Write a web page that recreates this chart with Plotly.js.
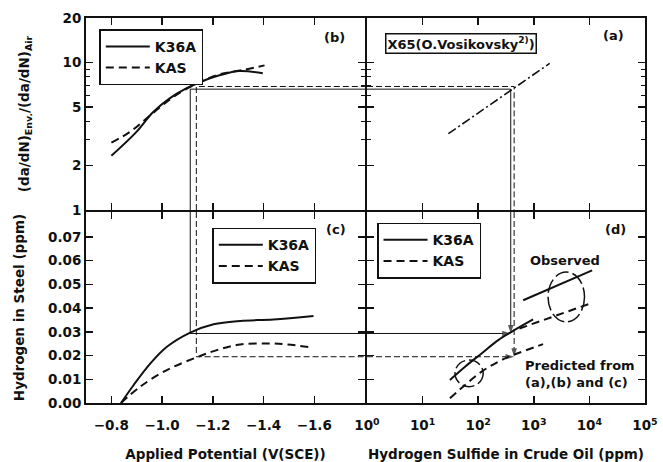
<!DOCTYPE html>
<html><head><meta charset="utf-8">
<script src="https://cdn.plot.ly/plotly-3.0.1.min.js"></script>
<style>html,body{margin:0;padding:0;background:#fff}#chart{width:663px;height:462px}</style>
</head><body><div id="chart"></div>
<script>
// ---- Panel (b): (da/dN)Env/(da/dN)Air vs applied potential ----
const bPotK36A   = [-0.80, -0.898, -0.964, -1.030, -1.095, -1.161, -1.226, -1.305, -1.397];
const bRatioK36A = [2.33, 3.37, 4.60, 5.71, 6.66, 7.49, 8.18, 8.74, 8.44];
const bPotKAS    = [-0.80, -0.872, -0.944, -1.030, -1.095, -1.161, -1.226, -1.318, -1.404];
const bRatioKAS  = [2.86, 3.37, 4.25, 5.60, 6.60, 7.50, 8.30, 8.88, 9.55];

// ---- Panel (c): hydrogen in steel vs applied potential ----
const cPotK36A = [-0.838, -0.888, -0.954, -1.019, -1.111, -1.203, -1.308, -1.439, -1.597];
const cHK36A   = [0.0, 0.0076, 0.0167, 0.0237, 0.0297, 0.0332, 0.0346, 0.0352, 0.0367];
const cPotKAS  = [-0.838, -0.914, -1.019, -1.135, -1.216, -1.308, -1.413, -1.492, -1.590];
const cHKAS    = [0.0, 0.0069, 0.0139, 0.0192, 0.0223, 0.0247, 0.0251, 0.0247, 0.0234];

// ---- Panel (a): X65 (O. Vosikovsky) ----
const aH2S   = [29.1, 1930];
const aRatio = [3.29, 9.85];

// ---- Panel (d): hydrogen in steel vs H2S in crude oil ----
const dPredH2SK36A = [31, 58, 115, 229, 398, 971];
const dPredHK36A   = [0.0097, 0.0153, 0.0209, 0.0265, 0.0300, 0.0352];
const dPredH2SKAS  = [31, 58, 115, 229, 425, 1468];
const dPredHKAS    = [0.0020, 0.0076, 0.0132, 0.0174, 0.0202, 0.0248];
const dObsH2SK36A  = [645, 11200];
const dObsHK36A    = [0.0433, 0.0559];
const dObsH2SKAS   = [552, 10300];
const dObsHKAS     = [0.0314, 0.0419];

// ---- Group outlines in (d): [H2S min, H2S max, H min, H max] ----
const obsGroup  = [1803, 8166, 0.0342, 0.0552];
const predGroup = [38.3, 123, 0.0069, 0.0181];

// ---- Guide (construction) values ----
const guidePot   = {K36A: -1.111, KAS: -1.135};
const guideRatio = {K36A: 6.59, KAS: 6.87};
const guideH     = {K36A: 0.0293, KAS: 0.0195};
const guideH2S   = {K36A: 385, KAS: 443};

// ---- Ticks ----
const potTicks   = [-0.8, -1.0, -1.2, -1.4, -1.6];
const hTicks     = [0, 0.01, 0.02, 0.03, 0.04, 0.05, 0.06, 0.07];
const ratioTicks = [1, 2, 5, 10, 20];
const ratioMinor = [3, 4, 6, 7, 8, 9];
const h2sTicks   = [1, 10, 100, 1000, 10000, 100000];
const h2sLabels  = ['10<sup>0</sup>','10<sup>1</sup>','10<sup>2</sup>','10<sup>3</sup>','10<sup>4</sup>','10<sup>5</sup>'];

// ---- Ranges ----
const potRange = [-0.7, -1.8];
const hRange = [0, 0.0805];
const ratioRangeMax = 20;
const h2sRange = [1, 100000];

const FONT = 'DejaVu Sans';
const INK = '#111';
const solid = {color: INK, width: 2};
const dashed = {color: INK, width: 2, dash: '8px,5px'};
const thinSolid = {color: INK, width: 1};
const thinDash = {color: INK, width: 1, dash: '6px,3px'};

function seg(xs, ys, xa, ya, line, arrow) {
  const t = {x: xs, y: ys, xaxis: xa, yaxis: ya, type: 'scatter', mode: arrow ? 'lines+markers' : 'lines',
             line: line, showlegend: false, hoverinfo: 'skip'};
  if (arrow) t.marker = {symbol: 'arrow', angleref: 'previous', size: [0, 9], color: INK, line: {width: 0}};
  return t;
}

const traces = [
  // (b)
  {x: bPotK36A, y: bRatioK36A, xaxis: 'x2', yaxis: 'y2', mode: 'lines', line: Object.assign({shape: 'spline'}, solid), name: 'K36A', legend: 'legend'},
  {x: bPotKAS, y: bRatioKAS, xaxis: 'x2', yaxis: 'y2', mode: 'lines', line: Object.assign({shape: 'spline'}, dashed), name: 'KAS', legend: 'legend'},
  // (c)
  {x: cPotK36A, y: cHK36A, xaxis: 'x', yaxis: 'y', mode: 'lines', line: Object.assign({shape: 'spline'}, solid), name: 'K36A', legend: 'legend2'},
  {x: cPotKAS, y: cHKAS, xaxis: 'x', yaxis: 'y', mode: 'lines', line: Object.assign({shape: 'spline'}, dashed), name: 'KAS', legend: 'legend2'},
  // (a)
  {x: aH2S, y: aRatio, xaxis: 'x4', yaxis: 'y4', mode: 'lines', line: {color: INK, width: 1.6, dash: '9px,3px,2px,3px'}, showlegend: false},
  // (d)
  {x: dPredH2SK36A, y: dPredHK36A, xaxis: 'x3', yaxis: 'y3', mode: 'lines', line: Object.assign({shape: 'spline'}, solid), name: 'K36A', legend: 'legend3'},
  {x: dPredH2SKAS, y: dPredHKAS, xaxis: 'x3', yaxis: 'y3', mode: 'lines', line: Object.assign({shape: 'spline'}, dashed), name: 'KAS', legend: 'legend3'},
  {x: dObsH2SK36A, y: dObsHK36A, xaxis: 'x3', yaxis: 'y3', mode: 'lines', line: solid, showlegend: false},
  {x: dObsH2SKAS, y: dObsHKAS, xaxis: 'x3', yaxis: 'y3', mode: 'lines', line: dashed, showlegend: false},
];

// guide lines
['K36A', 'KAS'].forEach(k => {
  const ln = k === 'K36A' ? thinSolid : thinDash;
  traces.push(seg([guidePot[k], guidePot[k], potRange[1]], [1, guideRatio[k], guideRatio[k]], 'x2', 'y2', ln));
  traces.push(seg([h2sRange[0], guideH2S[k], guideH2S[k]], [guideRatio[k], guideRatio[k], 1], 'x4', 'y4', ln));
  traces.push(seg([guidePot[k], guidePot[k], potRange[1]], [hRange[1], guideH[k], guideH[k]], 'x', 'y', ln));
  traces.push(seg([h2sRange[0], guideH2S[k]], [guideH[k], guideH[k]], 'x3', 'y3', ln, true));
  traces.push(seg([guideH2S[k], guideH2S[k]], [hRange[1], guideH[k]], 'x3', 'y3', ln, true));
});

const tickfont = {family: FONT, size: 13.5, color: INK, weight: 'bold'};
const titlefont = {family: FONT, size: 13.5, color: INK, weight: 'bold'};
const LW = 2;
const base = {showline: true, linecolor: INK, linewidth: LW, mirror: 'ticks', ticks: 'inside', ticklen: 7,
              tickwidth: 1.5, tickcolor: INK, showgrid: false, zeroline: false, tickfont: tickfont, automargin: false};
const W = 559, H = 385;
const split = 0.4991, ysplit = 0.4961;
const xL = [0, split], xR = [split + LW / W, 1];
const yB = [0, ysplit], yT = [ysplit + LW / H, 1];
const legendBase = {bgcolor: '#fff', bordercolor: INK, borderwidth: 1.5, xanchor: 'left', yanchor: 'top',
                    font: {family: FONT, size: 14, color: INK, weight: 'bold'}, itemwidth: 44, tracegroupgap: 0};
const annFont = {family: FONT, size: 13, color: INK, weight: 'bold'};
function ann(text, x, y, extra) {
  return Object.assign({text: text, x: x, y: y, xref: 'paper', yref: 'paper', xanchor: 'center', yanchor: 'middle',
                        showarrow: false, font: annFont}, extra || {});
}

const layout = {
  width: 663, height: 462,
  margin: {l: 86, r: 18, t: 18, b: 59},
  paper_bgcolor: '#fff', plot_bgcolor: '#fff',
  xaxis: Object.assign({}, base, {domain: xL, range: potRange, anchor: 'y', tickvals: potTicks, tickformat: '.1f', ticklabelstandoff: 9,
    title: {text: 'Applied Potential (V(SCE))', font: titlefont, standoff: 19}}),
  yaxis: Object.assign({}, base, {domain: yB, range: hRange, anchor: 'x', tickvals: hTicks, tickformat: '.2f',
    title: {text: 'Hydrogen in Steel (ppm)', font: titlefont, standoff: 20}}),
  xaxis2: Object.assign({}, base, {domain: xL, matches: 'x', anchor: 'y2', tickvals: potTicks, showticklabels: false}),
  yaxis2: Object.assign({}, base, {domain: yT, type: 'log', range: [0, Math.log10(ratioRangeMax)], anchor: 'x2',
    tickvals: ratioTicks, minor: {tickvals: ratioMinor, ticks: 'inside', ticklen: 4, tickcolor: INK, tickwidth: 1},
    title: {text: '(da/dN)<sub>Env.</sub>/(da/dN)<sub>Air</sub>', font: titlefont, standoff: 30}}),
  xaxis3: Object.assign({}, base, {domain: xR, type: 'log', range: [Math.log10(h2sRange[0]), Math.log10(h2sRange[1])], anchor: 'y3',
    tickvals: h2sTicks, ticktext: h2sLabels, ticklabelstandoff: 9,
    title: {text: 'Hydrogen Sulfide in Crude Oil (ppm)', font: titlefont, standoff: 19}}),
  yaxis3: Object.assign({}, base, {domain: yB, matches: 'y', anchor: 'x3', tickvals: hTicks, showticklabels: false}),
  xaxis4: Object.assign({}, base, {domain: xR, matches: 'x3', type: 'log', anchor: 'y4', tickvals: h2sTicks, showticklabels: false}),
  yaxis4: Object.assign({}, base, {domain: yT, matches: 'y2', type: 'log', anchor: 'x4', tickvals: ratioTicks, showticklabels: false,
    minor: {tickvals: ratioMinor, ticks: 'inside', ticklen: 4, tickcolor: INK, tickwidth: 1}}),
  legend: Object.assign({}, legendBase, {x: 0.0238, y: 0.9706}),
  legend2: Object.assign({}, legendBase, {x: 0.2259, y: 0.4553}),
  legend3: Object.assign({}, legendBase, {x: 0.5206, y: 0.4683}),
  shapes: [
    {type: 'circle', xref: 'x3', yref: 'y3', x0: obsGroup[0], x1: obsGroup[1], y0: obsGroup[2], y1: obsGroup[3],
     line: {color: INK, width: 1.5, dash: '14px,4px'}},
    {type: 'circle', xref: 'x3', yref: 'y3', x0: predGroup[0], x1: predGroup[1], y0: predGroup[2], y1: predGroup[3],
     line: {color: INK, width: 1.5, dash: '12px,4px'}}
  ],
  annotations: [
    ann('(b)', 0.4454, 0.9506),
    ann('(a)', 0.9445, 0.9558),
    ann('(c)', 0.4481, 0.4519),
    ann('(d)', 0.9480, 0.4519),
    ann('X65(O.Vosikovsky<sup>2)</sup>)', 0.670, 0.935, {bordercolor: INK, borderwidth: 1.5, borderpad: 1, bgcolor: '#fff'}),
    ann('Observed', 0.8560, 0.3714),
    ann('Predicted from<br>(a),(b) and (c)', 0.7812, 0.0753, {xanchor: 'left', align: 'left'})
  ]
};

Plotly.newPlot('chart', traces, layout, {staticPlot: true, displayModeBar: false});
</script></body></html>
